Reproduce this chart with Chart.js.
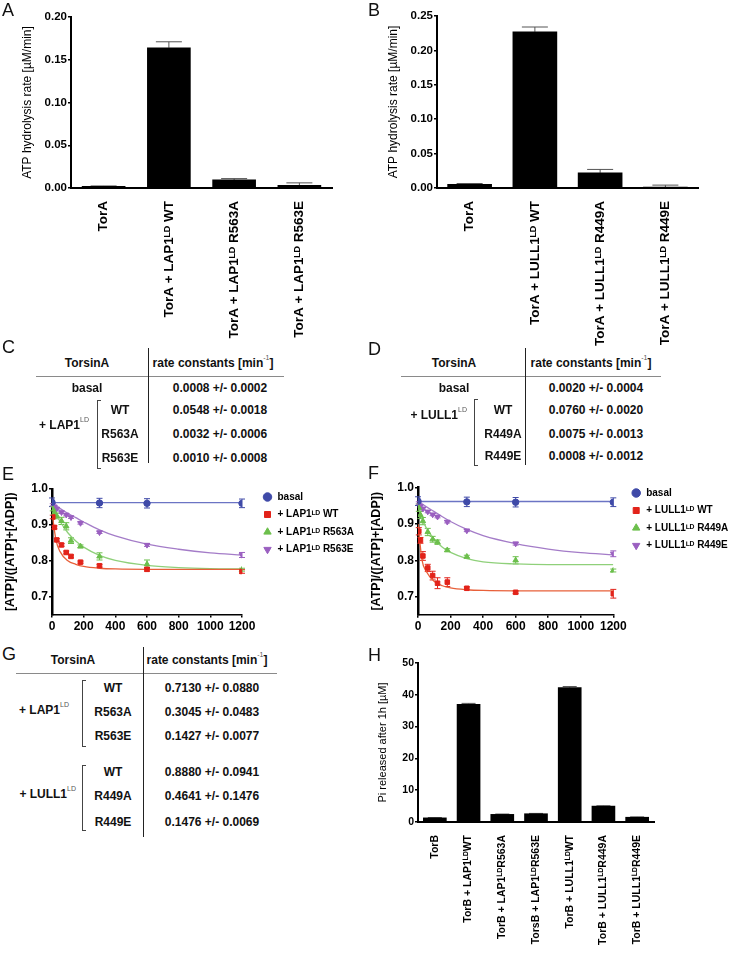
<!DOCTYPE html>
<html lang="en">
<head>
<meta charset="UTF-8">
<title>TorsinA ATPase activity</title>
<style>
  html, body { margin: 0; padding: 0; background: #fff; }
  body { width: 732px; height: 955px; position: relative; overflow: hidden;
         font-family: "Liberation Sans", Arial, sans-serif; color: #111; }
  canvas { position: absolute; }
  .panel { position: absolute; font-size: 18px; line-height: 18px; z-index: 2; }
  .t { position: absolute; font-size: 12px; font-weight: bold; line-height: 14px; white-space: nowrap;
       transform: translate(-50%, -50%); }
  .t.r { transform: translate(-100%, -50%); }
  .t sup { font-size: 7px; font-weight: normal; color: #555; vertical-align: 7px; line-height: 0; }
  .vl { position: absolute; width: 0; border-left: 1.5px solid #222; }
  .hl { position: absolute; height: 0; border-top: 1.5px solid #8a8a8a; }
  .br { position: absolute; width: 3px; border: 1px solid #444; border-right: none; }
</style>
</head>
<body>

<div class="panel" style="left:2px;top:1px">A</div>
<div class="panel" style="left:368px;top:1px">B</div>
<div class="panel" style="left:2px;top:338px">C</div>
<div class="panel" style="left:368px;top:340px">D</div>
<div class="panel" style="left:2px;top:465px">E</div>
<div class="panel" style="left:368px;top:464px">F</div>
<div class="panel" style="left:2px;top:645px">G</div>
<div class="panel" style="left:368px;top:646px">H</div>

<canvas id="chartA" width="345" height="350" style="left:0;top:0"></canvas>
<canvas id="chartB" width="345" height="350" style="left:366px;top:0"></canvas>
<canvas id="chartE" width="366" height="170" style="left:0;top:470px"></canvas>
<canvas id="chartF" width="366" height="170" style="left:366px;top:470px"></canvas>
<canvas id="chartH" width="366" height="300" style="left:366px;top:655px"></canvas>

<script src="https://cdn.jsdelivr.net/npm/chart.js"></script>
<script>
  // ---- panel A / B : ATP hydrolysis rates
  const aLabels = ['TorA', 'TorA + LAP1ᴸᴰ WT', 'TorA + LAP1ᴸᴰ R563A', 'TorA + LAP1ᴸᴰ R563E'];
  const aValues = [0.002, 0.164, 0.0095, 0.003];
  const aErrors = [0.0004, 0.007, 0.0015, 0.003];

  const bLabels = ['TorA', 'TorA + LULL1ᴸᴰ WT', 'TorA + LULL1ᴸᴰ R449A', 'TorA + LULL1ᴸᴰ R449E'];
  const bValues = [0.0055, 0.227, 0.022, 0.0012];
  const bErrors = [0.001, 0.007, 0.005, 0.003];

  // ---- tables C / D / G
  const cRows = ['WT', 'R563A', 'R563E'];
  const cRates = ['0.0008 +/- 0.0002', '0.0548 +/- 0.0018', '0.0032 +/- 0.0006', '0.0010 +/- 0.0008'];
  const dRows = ['WT', 'R449A', 'R449E'];
  const dRates = ['0.0020 +/- 0.0004', '0.0760 +/- 0.0020', '0.0075 +/- 0.0013', '0.0008 +/- 0.0012'];
  const gLapRates = ['0.7130 +/- 0.0880', '0.3045 +/- 0.0483', '0.1427 +/- 0.0077'];
  const gLullRates = ['0.8880 +/- 0.0941', '0.4641 +/- 0.1476', '0.1476 +/- 0.0069'];

  // ---- panel E / F : time courses (min)
  const times = [5, 15, 30, 60, 90, 120, 180, 300, 600, 1200];
  const basalTimes = [0, 300, 600, 1200];
  const fitTimes = [0, 25, 50, 100, 150, 200, 300, 400, 600, 800, 1000, 1200];

  const eBasal = [0.963, 0.961, 0.960, 0.960];
  const eBasalErr = [0.012, 0.013, 0.013, 0.012];
  const eWT = [0.922, 0.893, 0.858, 0.844, 0.823, 0.812, 0.796, 0.786, 0.776, 0.770];
  const eWTErr = [0.005, 0.004, 0.004, 0.004, 0.004, 0.004, 0.003, 0.004, 0.005, 0.005];
  const eR563A = [0.945, 0.935, 0.925, 0.911, 0.896, 0.856, 0.840, 0.812, 0.790, 0.775];
  const eR563AErr = [0.006, 0.006, 0.008, 0.010, 0.010, 0.008, 0.004, 0.010, 0.012, 0.004];
  const eR563E = [0.956, 0.951, 0.945, 0.935, 0.928, 0.921, 0.905, 0.879, 0.844, 0.816];
  const eR563EErr = [0.003, 0.003, 0.003, 0.003, 0.003, 0.003, 0.003, 0.003, 0.004, 0.007];
  const eBasalFit = [0.962, 0.962, 0.962, 0.962, 0.962, 0.962, 0.962, 0.962, 0.962, 0.962, 0.962, 0.962];
  const eWTFit = [0.935, 0.858, 0.826, 0.800, 0.790, 0.784, 0.779, 0.777, 0.776, 0.776, 0.776, 0.776];
  const eR563AFit = [0.952, 0.930, 0.910, 0.878, 0.855, 0.838, 0.815, 0.801, 0.787, 0.781, 0.778, 0.777];
  const eR563EFit = [0.960, 0.953, 0.946, 0.932, 0.920, 0.908, 0.886, 0.869, 0.846, 0.832, 0.822, 0.816];

  const fBasal = [0.963, 0.961, 0.960, 0.960];
  const fBasalErr = [0.012, 0.013, 0.013, 0.012];
  const fWT = [0.880, 0.855, 0.812, 0.779, 0.758, 0.737, 0.740, 0.723, 0.712, 0.708];
  const fWTErr = [0.010, 0.008, 0.012, 0.010, 0.012, 0.015, 0.012, 0.004, 0.004, 0.012];
  const fR449A = [0.945, 0.925, 0.908, 0.878, 0.858, 0.850, 0.828, 0.810, 0.800, 0.772];
  const fR449AErr = [0.010, 0.010, 0.010, 0.010, 0.008, 0.006, 0.004, 0.004, 0.010, 0.004];
  const fR449E = [0.958, 0.950, 0.942, 0.934, 0.926, 0.920, 0.906, 0.882, 0.846, 0.818];
  const fR449EErr = [0.003, 0.003, 0.003, 0.003, 0.003, 0.003, 0.003, 0.003, 0.004, 0.008];
  const fBasalFit = [0.962, 0.962, 0.962, 0.962, 0.962, 0.962, 0.962, 0.962, 0.962, 0.962, 0.962, 0.962];
  const fWTFit = [0.900, 0.800, 0.770, 0.742, 0.730, 0.724, 0.719, 0.717, 0.716, 0.716, 0.716, 0.716];
  const fR449AFit = [0.955, 0.915, 0.890, 0.858, 0.836, 0.822, 0.805, 0.796, 0.790, 0.788, 0.788, 0.788];
  const fR449EFit = [0.962, 0.955, 0.948, 0.934, 0.920, 0.907, 0.885, 0.868, 0.846, 0.831, 0.821, 0.815];

  // ---- panel H : Pi release
  const hLabels = ['TorB', 'TorB + LAP1ᴸᴰWT', 'TorB + LAP1ᴸᴰR563A', 'TorsB + LAP1ᴸᴰR563E',
                   'TorB + LULL1ᴸᴰWT', 'TorB + LULL1ᴸᴰR449A', 'TorB + LULL1ᴸᴰR449E'];
  const hValues = [1.3, 37.0, 2.4, 2.6, 42.3, 5.0, 1.5];
  const hErrors = [0.1, 0.3, 0.1, 0.1, 0.3, 0.1, 0.1];

  const BLUE = '#3f4aa8', RED = '#e2231a', GREEN = '#6cbf4c', PURPLE = '#9a5fc0';

  Chart.defaults.font.family = '"Liberation Sans", Arial, sans-serif';
  Chart.defaults.color = '#000';
  Chart.defaults.animation = false;

  // error bars drawn from the dataset's errorBars array through the y scale
  const errorBarPlugin = {
    id: 'errorBars',
    beforeDatasetsDraw(chart) {
      const ctx = chart.ctx;
      const yScale = chart.scales.y;
      chart.data.datasets.forEach((ds, i) => {
        if (!ds.errorBars) return;
        const meta = chart.getDatasetMeta(i);
        ctx.save();
        ctx.strokeStyle = ds.errorColor || ds.borderColor;
        ctx.lineWidth = 1;
        meta.data.forEach((el, j) => {
          const raw = ds.data[j];
          const v = typeof raw === 'object' ? raw.y : raw;
          const e = ds.errorBars[j];
          const top = yScale.getPixelForValue(v + e);
          const bottom = yScale.getPixelForValue(ds.errorUpOnly ? v : v - e);
          const cap = ds.errorCap;
          ctx.beginPath();
          ctx.moveTo(el.x, top);
          ctx.lineTo(el.x, bottom);
          ctx.moveTo(el.x - cap, top);
          ctx.lineTo(el.x + cap, top);
          if (!ds.errorUpOnly) {
            ctx.moveTo(el.x - cap, bottom);
            ctx.lineTo(el.x + cap, bottom);
          }
          ctx.stroke();
        });
        ctx.restore();
      });
    }
  };

  // move the legend box to a fixed spot after layout
  const legendPlace = {
    id: 'legendPlace',
    afterLayout(chart, args, opts) {
      const lg = chart.legend;
      if (!lg || opts.left === undefined) return;
      const w = lg.width, h = lg.height;
      lg.left = opts.left; lg.top = opts.top;
      lg.right = opts.left + w; lg.bottom = opts.top + h;
    }
  };

  const axisGrid = { drawOnChartArea: false, color: '#000', lineWidth: 1.5, tickLength: 3 };

  function barChart(id, labels, values, errors, opts) {
    return new Chart(document.getElementById(id), {
      type: 'bar',
      data: {
        labels: labels,
        datasets: [{
          data: values,
          backgroundColor: '#000',
          barThickness: opts.barWidth,
          errorBars: errors,
          errorUpOnly: true,
          errorCap: opts.cap,
          errorColor: '#555'
        }]
      },
      options: {
        responsive: false,
        layout: { padding: opts.padding },
        plugins: { legend: { display: false }, tooltip: { enabled: false } },
        scales: {
          x: {
            border: { color: '#000', width: 2 },
            grid: { display: false },
            ticks: { autoSkip: false, minRotation: 90, maxRotation: 90, padding: 5,
                     font: { size: opts.xFont, weight: 'bold' } },
            afterFit: s => { s.height = opts.xHeight; }
          },
          y: {
            min: 0, max: opts.max,
            border: { color: '#000', width: 2 },
            grid: axisGrid,
            ticks: { stepSize: opts.step, padding: 1, font: { size: opts.yFont, weight: 'bold' },
                     callback: v => v.toFixed(opts.decimals) },
            title: { display: true, text: opts.title, font: { size: opts.titleFont, lineHeight: 1 },
                     padding: { top: opts.titlePad, bottom: 0 } },
            afterFit: s => { s.width = opts.yWidth; }
          }
        }
      },
      plugins: [errorBarPlugin]
    });
  }

  barChart('chartA', aLabels, aValues, aErrors, {
    barWidth: 43, cap: 13, padding: { top: 17, right: 13, left: 0, bottom: 0 },
    xHeight: 162, yWidth: 71, max: 0.2, step: 0.05, decimals: 2, xFont: 13.5, yFont: 11.5,
    title: 'ATP hydrolysis rate [µM/min]', titleFont: 12, titlePad: 22
  });
  barChart('chartB', bLabels, bValues, bErrors, {
    barWidth: 44, cap: 13, padding: { top: 16, right: 13, left: 0, bottom: 0 },
    xHeight: 162, yWidth: 71, max: 0.25, step: 0.05, decimals: 2, xFont: 13.5, yFont: 11.5,
    title: 'ATP hydrolysis rate [µM/min]', titleFont: 12, titlePad: 22
  });
  barChart('chartH', hLabels, hValues, hErrors, {
    barWidth: 23, cap: 7, padding: { top: 8, right: 78, left: 0, bottom: 0 },
    xHeight: 133, yWidth: 52, max: 50, step: 10, decimals: 0, xFont: 10.5, yFont: 10.5,
    title: 'Pi released after 1h [µM]', titleFont: 11, titlePad: 11
  });

  function xy(xs, ys) {
    return xs.map((x, i) => ({ x: x, y: ys[i] }));
  }

  function pointSet(label, xs, ys, errs, color, style, rotation) {
    return {
      label: label, data: xy(xs, ys), showLine: false,
      borderColor: color, backgroundColor: color,
      pointStyle: style, pointRotation: rotation || 0, pointRadius: 3.2, pointBorderWidth: 1,
      errorBars: errs, errorCap: 3
    };
  }

  function fitSet(ys, color) {
    return {
      data: xy(fitTimes, ys), borderColor: color, borderWidth: 1.3, pointRadius: 0,
      cubicInterpolationMode: 'monotone', fill: false
    };
  }

  function timeChart(id, sets, fits, opts) {
    return new Chart(document.getElementById(id), {
      type: 'line',
      data: { datasets: sets.concat(fits) },
      options: {
        responsive: false,
        layout: { padding: opts.padding },
        plugins: {
          tooltip: { enabled: false },
          legend: {
            position: 'chartArea', align: 'start',
            labels: {
              usePointStyle: true, boxWidth: 11, boxHeight: 6, padding: 7.5,
              font: { size: 10, weight: 'bold' }, color: '#000',
              filter: item => item.datasetIndex < 4
            }
          },
          legendPlace: opts.legend
        },
        scales: {
          x: {
            type: 'linear', min: 0, max: 1200,
            border: { color: '#000', width: 1.5 },
            grid: axisGrid,
            ticks: { stepSize: 200, padding: 2, autoSkip: false, minRotation: 0, maxRotation: 0,
                     font: { size: 12, weight: 'bold' }, callback: v => String(v) },
            afterFit: s => { s.height = opts.xHeight; }
          },
          y: {
            min: 0.65, max: 1.0,
            border: { color: '#000', width: 2.5 },
            grid: axisGrid,
            ticks: { stepSize: 0.1, includeBounds: false, padding: 1,
                     font: { size: 12, weight: 'bold' }, callback: v => v.toFixed(1) },
            title: { display: true, text: '[ATP]/([ATP]+[ADP])', font: { size: 12.5, weight: 'bold', lineHeight: 1 },
                     padding: { top: 4, bottom: 0 } },
            afterFit: s => { s.width = 52; }
          }
        }
      },
      plugins: [errorBarPlugin, legendPlace]
    });
  }

  timeChart('chartE', [
    pointSet('basal', basalTimes, eBasal, eBasalErr, BLUE, 'circle'),
    pointSet('+ LAP1ᴸᴰ WT', times, eWT, eWTErr, RED, 'rect'),
    pointSet('+ LAP1ᴸᴰ R563A', times, eR563A, eR563AErr, GREEN, 'triangle'),
    pointSet('+ LAP1ᴸᴰ R563E', times, eR563E, eR563EErr, PURPLE, 'triangle', 180)
  ], [
    fitSet(eBasalFit, '#6b74c4'), fitSet(eWTFit, '#e8603a'),
    fitSet(eR563AFit, '#8fd07a'), fitSet(eR563EFit, '#a47cc8')
  ], {
    padding: { top: 19, right: 124, left: 0, bottom: 0 }, xHeight: 25.5,
    legend: { left: 255, top: 14.5 }
  });

  timeChart('chartF', [
    pointSet('basal', basalTimes, fBasal, fBasalErr, BLUE, 'circle'),
    pointSet('+ LULL1ᴸᴰ WT', times, fWT, fWTErr, RED, 'rect'),
    pointSet('+ LULL1ᴸᴰ R449A', times, fR449A, fR449AErr, GREEN, 'triangle'),
    pointSet('+ LULL1ᴸᴰ R449E', times, fR449E, fR449EErr, PURPLE, 'triangle', 180)
  ], [
    fitSet(fBasalFit, '#6b74c4'), fitSet(fWTFit, '#e8603a'),
    fitSet(fR449AFit, '#8fd07a'), fitSet(fR449EFit, '#a47cc8')
  ], {
    padding: { top: 17.7, right: 118.7, left: 0, bottom: 0 }, xHeight: 25.2,
    legend: { left: 257.7, top: 10.5 }
  });

  // ---- tables
  function text(html, x, y, cls) {
    const d = document.createElement('div');
    d.className = 't' + (cls ? ' ' + cls : '');
    d.innerHTML = html;
    d.style.left = x + 'px';
    d.style.top = y + 'px';
    document.body.appendChild(d);
  }
  function vline(x, y1, y2) {
    const d = document.createElement('div');
    d.className = 'vl';
    d.style.left = x + 'px'; d.style.top = y1 + 'px'; d.style.height = (y2 - y1) + 'px';
    document.body.appendChild(d);
  }
  function hline(x1, x2, y) {
    const d = document.createElement('div');
    d.className = 'hl';
    d.style.left = x1 + 'px'; d.style.top = y + 'px'; d.style.width = (x2 - x1) + 'px';
    document.body.appendChild(d);
  }
  function bracket(x, y1, y2) {
    const d = document.createElement('div');
    d.className = 'br';
    d.style.left = x + 'px'; d.style.top = y1 + 'px'; d.style.height = (y2 - y1) + 'px';
    document.body.appendChild(d);
  }
  const rateHead = 'rate constants [min<sup>-1</sup>]';

  // C
  text('TorsinA', 87, 363); text(rateHead, 213, 363);
  hline(36, 284, 376); vline(148, 348, 463);
  text('basal', 87, 388); text(cRates[0], 220, 388);
  text('+ LAP1<sup>LD</sup>', 89, 425, 'r');
  bracket(97, 400, 467);
  [410, 434, 458].forEach((y, i) => { text(cRows[i], 120, y); text(cRates[i + 1], 220, y); });

  // D
  text('TorsinA', 454, 363); text(rateHead, 591, 363);
  hline(401, 661, 376); vline(525, 348, 465);
  text('basal', 454, 388); text(dRates[0], 596, 388);
  text('+ LULL1<sup>LD</sup>', 467, 415, 'r');
  bracket(474, 399, 464);
  [410, 434, 456].forEach((y, i) => { text(dRows[i], 503, y); text(dRates[i + 1], 596, y); });

  // G
  text('TorsinA', 73, 660); text(rateHead, 207, 660);
  hline(16, 277, 673); vline(143, 647, 837);
  text('+ LAP1<sup>LD</sup>', 69, 710, 'r');
  bracket(82, 680, 745);
  [688, 712, 736].forEach((y, i) => { text(cRows[i], 113, y); text(gLapRates[i], 212, y); });
  text('+ LULL1<sup>LD</sup>', 76, 794, 'r');
  bracket(82, 765, 829);
  [772, 796, 822].forEach((y, i) => { text(dRows[i], 113, y); text(gLullRates[i], 212, y); });
</script>
</body>
</html>
